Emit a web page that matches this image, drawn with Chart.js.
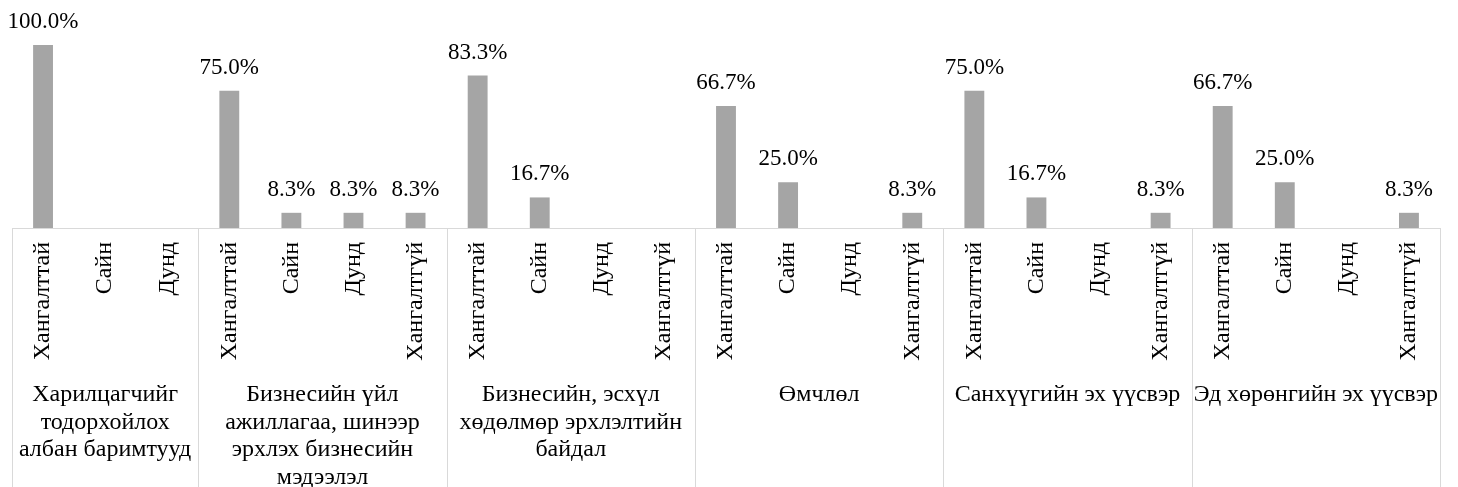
<!DOCTYPE html>
<html>
<head>
<meta charset="utf-8">
<script src="https://cdn.jsdelivr.net/npm/chart.js@4.4.1/dist/chart.umd.min.js"></script>
<style>
html,body{margin:0;padding:0;background:#fff;}
#wrap{width:1458px;height:487px;position:relative;}
</style>
</head>
<body>
<div id="wrap"><canvas id="c"></canvas></div>
<script>
const categories = [
  "Хангалттай","Сайн","Дунд",
  "Хангалттай","Сайн","Дунд","Хангалтгүй",
  "Хангалттай","Сайн","Дунд","Хангалтгүй",
  "Хангалттай","Сайн","Дунд","Хангалтгүй",
  "Хангалттай","Сайн","Дунд","Хангалтгүй",
  "Хангалттай","Сайн","Дунд","Хангалтгүй"
];
const values = [
  100.0, 0, 0,
  75.0, 8.3, 8.3, 8.3,
  83.3, 16.7, 0, 0,
  66.7, 25.0, 0, 8.3,
  75.0, 16.7, 0, 8.3,
  66.7, 25.0, 0, 8.3
];
const groupLabels = [
  ["Харилцагчийг", "тодорхойлох", "албан баримтууд"],
  ["Бизнесийн үйл", "ажиллагаа, шинээр", "эрхлэх бизнесийн", "мэдээлэл"],
  ["Бизнесийн, эсхүл", "хөдөлмөр эрхлэлтийн", "байдал"],
  ["Өмчлөл"],
  ["Санхүүгийн эх үүсвэр"],
  ["Эд хөрөнгийн эх үүсвэр"]
];
const groupCounts = [3, 4, 4, 4, 4, 4];

const FONT = "'Liberation Serif', 'Times New Roman', serif";
const LINE = '#d9d9d9';

const decorPlugin = {
  id: 'decor',
  afterDatasetsDraw(chart) {
    const ctx = chart.ctx;
    const x = chart.scales.x;
    const area = chart.chartArea;
    const meta = chart.getDatasetMeta(0);
    ctx.save();
    // value labels
    ctx.fillStyle = '#000';
    ctx.font = '23px ' + FONT;
    ctx.textAlign = 'center';
    ctx.textBaseline = 'alphabetic';
    meta.data.forEach((bar, i) => {
      const v = values[i];
      if (!v) return;
      ctx.fillText(v.toFixed(1) + '%', bar.x, bar.y - 17);
    });
    // axis and separators
    const half = (x.getPixelForValue(1) - x.getPixelForValue(0)) / 2;
    const bottom = chart.height;
    ctx.strokeStyle = LINE;
    ctx.lineWidth = 1;
    ctx.beginPath();
    ctx.moveTo(area.left, area.bottom + 0.5);
    ctx.lineTo(area.right, area.bottom + 0.5);
    let idx = 0;
    const bounds = [x.getPixelForValue(0) - half];
    groupCounts.forEach(n => { idx += n; bounds.push(x.getPixelForValue(idx - 1) + half); });
    bounds.forEach(b => {
      const px = Math.round(b) + 0.5;
      ctx.moveTo(px, area.bottom);
      ctx.lineTo(px, bottom);
    });
    ctx.stroke();
    // group labels
    ctx.fillStyle = '#000';
    ctx.font = '24px ' + FONT;
    ctx.textBaseline = 'middle';
    groupLabels.forEach((lines, g) => {
      const cx = (bounds[g] + bounds[g + 1]) / 2;
      lines.forEach((ln, k) => {
        ctx.fillText(ln, cx, area.bottom + 167 + k * 27.5);
      });
    });
    ctx.restore();
  }
};

new Chart(document.getElementById('c'), {
  type: 'bar',
  data: {
    labels: categories,
    datasets: [{
      data: values,
      backgroundColor: '#a5a5a5',
      borderWidth: 0,
      categoryPercentage: 1.0,
      barPercentage: 0.32
    }]
  },
  options: {
    responsive: true,
    maintainAspectRatio: false,
    animation: false,
    layout: { padding: { top: 45, left: 12, right: 18, bottom: 0 } },
    plugins: { legend: { display: false }, tooltip: { enabled: false } },
    scales: {
      y: { display: false, min: 0, max: 100 },
      x: {
        grid: { display: false, drawTicks: false },
        border: { display: false },
        afterFit(scale) { scale.height = 259; },
        ticks: {
          autoSkip: false,
          minRotation: 90,
          maxRotation: 90,
          padding: 14,
          color: '#000',
          font: { family: FONT, size: 24 }
        }
      }
    }
  },
  plugins: [decorPlugin]
});
</script>
</body>
</html>
